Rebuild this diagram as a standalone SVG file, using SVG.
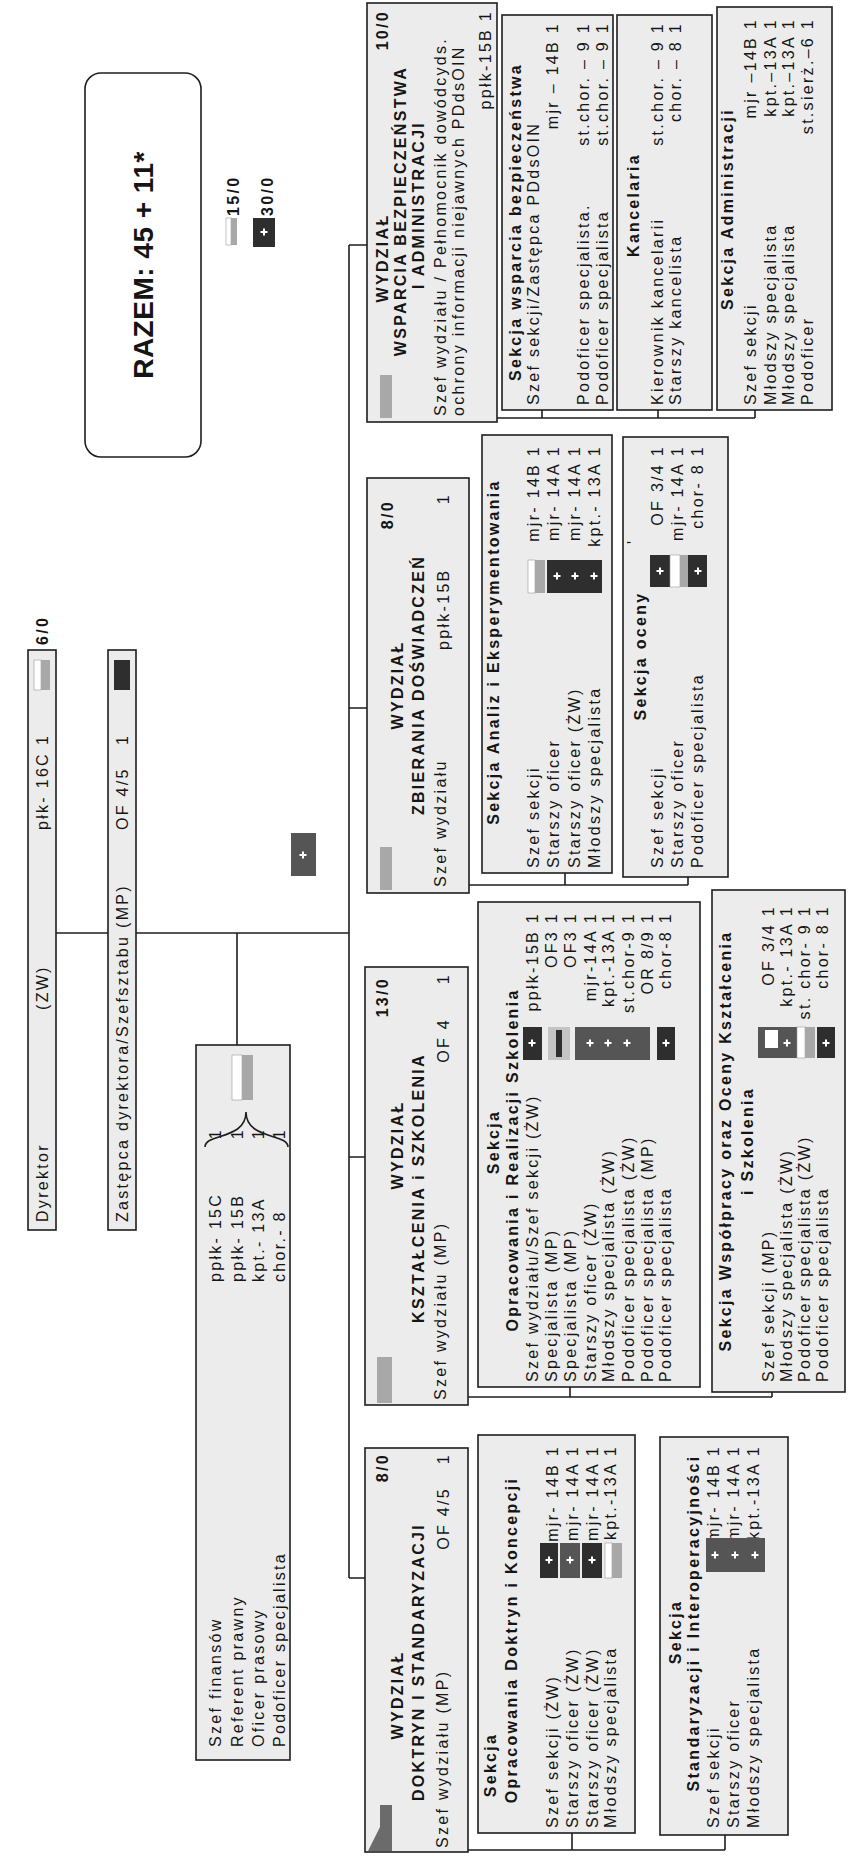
<svg xmlns="http://www.w3.org/2000/svg" width="850" height="1860" viewBox="0 0 850 1860">
<style>
.bx{fill:#ececec;stroke:#1e1e1e;stroke-width:1.6}
.ln{fill:none;stroke:#1e1e1e;stroke-width:1.6}
.t{font-family:"Liberation Sans",Arial,sans-serif;font-size:16px;letter-spacing:2.3px;fill:#151515}
.b{font-weight:bold}
.e{text-anchor:end}
.m{text-anchor:middle}
.dk{fill:#2e2e2e}
.md{fill:#555}
.gr{fill:#a8a8a8}
.wh{fill:#fff;stroke:#999;stroke-width:0.6}
</style>
<defs>
<g id="pl"><path d="M-3.5,0H3.5M0,-3.5V3.5" stroke="#fff" stroke-width="2"/></g>
</defs>
<rect width="850" height="1860" fill="#fff"/>

<g id="connectors">
<path class="ln" d="M349,245V1578M349,245H367M349,708H367M349,1157H365M349,1578H365"/>
<path class="ln" d="M56,933H108M136,933H349M237,933V1045"/>
<path class="ln" d="M497,418H755M542,410V418M658,410V418M755,410V418"/>
<path class="ln" d="M469,885H688M565,873V885M688,877V885"/>
<path class="ln" d="M468,1397H772M570,1387V1397M772,1392V1397"/>
<path class="ln" d="M468,1850H725M572,1833V1850M725,1835V1850"/>
</g>

<g id="razem">
<rect x="85" y="73" width="116" height="384" rx="16" fill="#fff" stroke="#1e1e1e" stroke-width="1.6"/>
<text class="t b m" style="font-size:28px;letter-spacing:0.5px" transform="translate(153,265) rotate(-90)">RAZEM: 45 + 11*</text>
</g>

<g id="legend">
<rect class="wh" x="226" y="218" width="5" height="27"/><rect class="gr" x="231" y="218" width="6" height="27"/>
<text class="t b" transform="translate(239,216) rotate(-90)">15/0</text>
<rect class="dk" x="253" y="218" width="22" height="29"/><use href="#pl" x="264" y="232"/>
<text class="t b" transform="translate(273,216) rotate(-90)">30/0</text>
</g>

<g id="icon-free">
<rect class="md" x="291" y="833" width="25" height="43"/><use href="#pl" x="303" y="855"/>
</g>

<g id="dyrektor">
<rect class="bx" x="28" y="650" width="28" height="580"/>
<text class="t" transform="translate(48,1222) rotate(-90)">Dyrektor</text>
<text class="t" transform="translate(48,1010) rotate(-90)">(ZW)</text>
<text class="t" transform="translate(48,830) rotate(-90)">płk- 16C</text>
<text class="t" transform="translate(48,745) rotate(-90)">1</text>
<rect class="wh" x="34" y="660" width="7" height="30"/><rect class="gr" x="41" y="660" width="9" height="30"/>
<text class="t b" transform="translate(48,645) rotate(-90)">6/0</text>
</g>

<g id="zastepca">
<rect class="bx" x="108" y="650" width="28" height="580"/>
<text class="t" transform="translate(128,1222) rotate(-90)">Zastępca dyrektora/Szefsztabu  (MP)</text>
<text class="t" transform="translate(128,830) rotate(-90)">OF 4/5</text>
<text class="t" transform="translate(128,745) rotate(-90)">1</text>
<rect class="dk" x="114" y="660" width="16" height="30"/>
</g>

<g id="sztab">
<rect class="bx" x="196" y="1045" width="94" height="715"/>
<text class="t" transform="translate(221,1747) rotate(-90)">Szef finansów</text>
<text class="t" transform="translate(243,1747) rotate(-90)">Referent prawny</text>
<text class="t" transform="translate(264,1747) rotate(-90)">Oficer prasowy</text>
<text class="t" transform="translate(285,1747) rotate(-90)">Podoficer specjalista</text>
<text class="t" transform="translate(221,1282) rotate(-90)">ppłk-  15C</text>
<text class="t" transform="translate(243,1282) rotate(-90)">ppłk-  15B</text>
<text class="t" transform="translate(264,1282) rotate(-90)">kpt.-  13A</text>
<text class="t" transform="translate(285,1282) rotate(-90)">chor.-  8</text>
<text class="t e" transform="translate(221,1128) rotate(-90)">1</text>
<text class="t e" transform="translate(243,1128) rotate(-90)">1</text>
<text class="t e" transform="translate(264,1128) rotate(-90)">1</text>
<text class="t e" transform="translate(285,1128) rotate(-90)">1</text>
<path class="ln" d="M205,1147C205,1133 246,1140 246,1112C246,1140 288,1133 288,1147"/>
<rect class="wh" x="232" y="1055" width="10" height="45"/><rect class="gr" x="242" y="1055" width="11" height="45"/>
</g>

<g id="wydz-wsparcia">
<rect class="bx" x="367" y="3" width="130" height="419"/>
<rect class="gr" x="380" y="375" width="12" height="43"/>
<text class="t b e" transform="translate(388,10) rotate(-90)">10/0</text>
<text class="t b m" transform="translate(388,258) rotate(-90)">WYDZIAŁ</text>
<text class="t b m" transform="translate(406,211) rotate(-90)">WSPARCIA BEZPIECZEŃSTWA</text>
<text class="t b m" transform="translate(424,205) rotate(-90)">I ADMINISTRACJI</text>
<text class="t" transform="translate(446,416) rotate(-90)">Szef wydziału / Pełnomocnik dowódcyds.</text>
<text class="t" transform="translate(464,416) rotate(-90)">ochrony informacji niejawnych PDdsOIN</text>
<text class="t e" transform="translate(491,10) rotate(-90)">ppłk-15B 1</text>
</g>

<g id="sek-wsparcia">
<rect class="bx" x="502" y="15" width="111" height="395"/>
<text class="t b m" transform="translate(521,222) rotate(-90)">Sekcja wsparcia bezpieczeństwa</text>
<text class="t" transform="translate(539,405) rotate(-90)">Szef sekcji/Zastępca PDdsOIN</text>
<text class="t e" transform="translate(558,22) rotate(-90)">mjr – 14B 1</text>
<text class="t" transform="translate(589,405) rotate(-90)">Podoficer specjalista.</text>
<text class="t e" transform="translate(589,22) rotate(-90)">st.chor. – 9 1</text>
<text class="t" transform="translate(608,405) rotate(-90)">Podoficer specjalista</text>
<text class="t e" transform="translate(608,22) rotate(-90)">st.chor. – 9 1</text>
</g>

<g id="kancelaria">
<rect class="bx" x="617" y="15" width="95" height="395"/>
<text class="t b m" transform="translate(639,205) rotate(-90)">Kancelaria</text>
<text class="t" transform="translate(663,405) rotate(-90)">Kierownik kancelarii</text>
<text class="t e" transform="translate(663,22) rotate(-90)">st.chor. – 9 1</text>
<text class="t" transform="translate(681,405) rotate(-90)">Starszy kancelista</text>
<text class="t e" transform="translate(681,22) rotate(-90)">chor. – 8 1</text>
</g>

<g id="sek-administracji">
<rect class="bx" x="717" y="7" width="115" height="403"/>
<text class="t b m" transform="translate(733,209) rotate(-90)">Sekcja Administracji</text>
<text class="t" transform="translate(756,405) rotate(-90)">Szef sekcji</text>
<text class="t e" transform="translate(756,18) rotate(-90)">mjr –14B 1</text>
<text class="t" transform="translate(776,405) rotate(-90)">Młodszy specjalista</text>
<text class="t e" transform="translate(776,18) rotate(-90)">kpt.–13A 1</text>
<text class="t" transform="translate(794,405) rotate(-90)">Młodszy specjalista</text>
<text class="t e" transform="translate(794,18) rotate(-90)">kpt.–13A 1</text>
<text class="t" transform="translate(813,405) rotate(-90)">Podoficer</text>
<text class="t e" transform="translate(813,18) rotate(-90)">st.sierż.–6 1</text>
</g>

<g id="wydz-zbierania">
<rect class="bx" x="367" y="478" width="102" height="415"/>
<rect class="gr" x="380" y="847" width="12" height="43"/>
<text class="t b e" transform="translate(393,500) rotate(-90)">8/0</text>
<text class="t e" transform="translate(449,493) rotate(-90)">1</text>
<text class="t b m" transform="translate(403,685) rotate(-90)">WYDZIAŁ</text>
<text class="t b m" transform="translate(424,685) rotate(-90)">ZBIERANIA DOŚWIADCZEŃ</text>
<text class="t" transform="translate(446,887) rotate(-90)">Szef wydziału</text>
<text class="t" transform="translate(449,650) rotate(-90)">ppłk-15B</text>
</g>

<g id="sek-analiz">
<rect class="bx" x="482" y="435" width="130" height="438"/>
<text class="t b m" transform="translate(499,652) rotate(-90)">Sekcja Analiz i Eksperymentowania</text>
<text class="t" transform="translate(539,868) rotate(-90)">Szef sekcji</text>
<text class="t" transform="translate(559,868) rotate(-90)">Starszy oficer</text>
<text class="t" transform="translate(580,868) rotate(-90)">Starszy oficer  (ŻW)</text>
<text class="t" transform="translate(600,868) rotate(-90)">Młodszy specjalista</text>
<text class="t e" transform="translate(539,445) rotate(-90)">mjr- 14B 1</text>
<text class="t e" transform="translate(559,445) rotate(-90)">mjr- 14A 1</text>
<text class="t e" transform="translate(580,445) rotate(-90)">mjr- 14A 1</text>
<text class="t e" transform="translate(600,445) rotate(-90)">kpt.- 13A 1</text>
<rect class="wh" x="528" y="560" width="7" height="33"/><rect class="gr" x="535" y="560" width="10" height="33"/>
<rect class="dk" x="547" y="560" width="55" height="33"/>
<use href="#pl" x="557" y="576"/><use href="#pl" x="575" y="576"/><use href="#pl" x="594" y="576"/>
</g>

<g id="sek-oceny">
<rect class="bx" x="623" y="437" width="105" height="440"/>
<text class="t b m" transform="translate(646,656) rotate(-90)">Sekcja oceny</text>
<text class="t" transform="translate(639,544) rotate(-90)">'</text>
<text class="t" transform="translate(663,868) rotate(-90)">Szef sekcji</text>
<text class="t" transform="translate(683,868) rotate(-90)">Starszy oficer</text>
<text class="t" transform="translate(703,868) rotate(-90)">Podoficer specjalista</text>
<text class="t e" transform="translate(663,445) rotate(-90)">OF 3/4 1</text>
<text class="t e" transform="translate(683,445) rotate(-90)">mjr- 14A 1</text>
<text class="t e" transform="translate(703,445) rotate(-90)">chor- 8 1</text>
<rect class="dk" x="650" y="555" width="20" height="32"/><use href="#pl" x="660" y="571"/>
<rect class="wh" x="670" y="555" width="10" height="32"/><rect class="gr" x="680" y="555" width="8" height="32"/>
<rect class="dk" x="688" y="555" width="19" height="32"/><use href="#pl" x="698" y="571"/>
</g>

<g id="wydz-ksztalcenia">
<rect class="bx" x="365" y="967" width="103" height="438"/>
<rect class="gr" x="377" y="1357" width="15" height="46"/>
<text class="t b e" transform="translate(388,977) rotate(-90)">13/0</text>
<text class="t e" transform="translate(449,973) rotate(-90)">1</text>
<text class="t e" transform="translate(449,1018) rotate(-90)">OF 4</text>
<text class="t b m" transform="translate(403,1145) rotate(-90)">WYDZIAŁ</text>
<text class="t b m" transform="translate(424,1188) rotate(-90)">KSZTAŁCENIA i SZKOLENIA</text>
<text class="t" transform="translate(446,1400) rotate(-90)">Szef wydziału (MP)</text>
</g>

<g id="sek-szkolenia">
<rect class="bx" x="478" y="902" width="222" height="485"/>
<text class="t b m" transform="translate(499,1142) rotate(-90)">Sekcja</text>
<text class="t b m" transform="translate(518,1160) rotate(-90)">Opracowania i Realizacji Szkolenia</text>
<text class="t" transform="translate(538,1382) rotate(-90)">Szef wydziału/Szef sekcji (ŻW)</text>
<text class="t" transform="translate(557,1382) rotate(-90)">Specjalista (MP)</text>
<text class="t" transform="translate(576,1382) rotate(-90)">Specjalista (MP)</text>
<text class="t" transform="translate(596,1382) rotate(-90)">Starszy oficer (ŻW)</text>
<text class="t" transform="translate(614,1382) rotate(-90)">Młodszy specjalista (ŻW)</text>
<text class="t" transform="translate(634,1382) rotate(-90)">Podoficer specjalista (ŻW)</text>
<text class="t" transform="translate(653,1382) rotate(-90)">Podoficer specjalista (MP)</text>
<text class="t" transform="translate(671,1382) rotate(-90)">Podoficer specjalista</text>
<text class="t e" transform="translate(538,912) rotate(-90)">ppłk-15B 1</text>
<text class="t e" transform="translate(557,912) rotate(-90)">OF3 1</text>
<text class="t e" transform="translate(576,912) rotate(-90)">OF3 1</text>
<text class="t e" transform="translate(596,912) rotate(-90)">mjr-14A 1</text>
<text class="t e" transform="translate(614,912) rotate(-90)">kpt.-13A 1</text>
<text class="t e" transform="translate(634,912) rotate(-90)">st.chor-9 1</text>
<text class="t e" transform="translate(653,912) rotate(-90)">OR 8/9 1</text>
<text class="t e" transform="translate(671,912) rotate(-90)">chor-8 1</text>
<rect class="dk" x="523" y="1027" width="19" height="33"/><use href="#pl" x="532" y="1043"/>
<rect fill="#c4c4c4" x="548" y="1027" width="22" height="33"/><rect class="dk" x="556" y="1030" width="6" height="27"/>
<rect class="md" x="575" y="1027" width="75" height="33"/>
<use href="#pl" x="590" y="1043"/><use href="#pl" x="608" y="1043"/><use href="#pl" x="627" y="1043"/>
<rect class="dk" x="657" y="1027" width="18" height="33"/><use href="#pl" x="666" y="1043"/>
</g>

<g id="sek-wspolpracy">
<rect class="bx" x="712" y="890" width="133" height="502"/>
<text class="t b m" transform="translate(731,1141) rotate(-90)">Sekcja Współpracy oraz Oceny Kształcenia</text>
<text class="t b m" transform="translate(753,1141) rotate(-90)">i Szkolenia</text>
<text class="t" transform="translate(774,1382) rotate(-90)">Szef sekcji (MP)</text>
<text class="t" transform="translate(792,1382) rotate(-90)">Młodszy specjalista (ŻW)</text>
<text class="t" transform="translate(810,1382) rotate(-90)">Podoficer specjalista (ŻW)</text>
<text class="t" transform="translate(828,1382) rotate(-90)">Podoficer specjalista</text>
<text class="t e" transform="translate(774,905) rotate(-90)">OF 3/4 1</text>
<text class="t e" transform="translate(792,905) rotate(-90)">kpt.- 13A 1</text>
<text class="t e" transform="translate(810,905) rotate(-90)">st. chor- 9 1</text>
<text class="t e" transform="translate(828,905) rotate(-90)">chor- 8 1</text>
<rect class="md" x="758" y="1027" width="39" height="31"/><rect fill="#fff" x="765" y="1030" width="13" height="18"/>
<use href="#pl" x="787" y="1043"/>
<rect class="wh" x="797" y="1027" width="8" height="31"/><rect class="gr" x="805" y="1027" width="10" height="31"/>
<rect class="dk" x="817" y="1027" width="18" height="31"/><use href="#pl" x="826" y="1043"/>
</g>

<g id="wydz-doktryn">
<rect class="bx" x="365" y="1448" width="103" height="404"/>
<polygon fill="#6b6b6b" points="380,1805 392,1805 392,1851 368,1851 380,1827"/>
<text class="t b e" transform="translate(388,1453) rotate(-90)">8/0</text>
<text class="t e" transform="translate(449,1453) rotate(-90)">1</text>
<text class="t e" transform="translate(449,1487) rotate(-90)">OF 4/5</text>
<text class="t b m" transform="translate(403,1695) rotate(-90)">WYDZIAŁ</text>
<text class="t b m" transform="translate(424,1662) rotate(-90)">DOKTRYN  I STANDARYZACJI</text>
<text class="t" transform="translate(448,1848) rotate(-90)">Szef wydziału (MP)</text>
</g>

<g id="sek-doktryn">
<rect class="bx" x="478" y="1435" width="157" height="398"/>
<text class="t b m" transform="translate(496,1765) rotate(-90)">Sekcja</text>
<text class="t b m" transform="translate(517,1640) rotate(-90)">Opracowania Doktryn i Koncepcji</text>
<text class="t" transform="translate(558,1828) rotate(-90)">Szef sekcji (ŻW)</text>
<text class="t" transform="translate(578,1828) rotate(-90)">Starszy oficer (ŻW)</text>
<text class="t" transform="translate(598,1828) rotate(-90)">Starszy oficer (ŻW)</text>
<text class="t" transform="translate(616,1828) rotate(-90)">Młodszy specjalista</text>
<text class="t e" transform="translate(558,1445) rotate(-90)">mjr- 14B 1</text>
<text class="t e" transform="translate(578,1445) rotate(-90)">mjr- 14A 1</text>
<text class="t e" transform="translate(598,1445) rotate(-90)">mjr- 14A 1</text>
<text class="t e" transform="translate(616,1445) rotate(-90)">kpt.-13A 1</text>
<rect class="dk" x="540" y="1543" width="18" height="35"/><use href="#pl" x="549" y="1560"/>
<rect class="md" x="560" y="1543" width="20" height="35"/><use href="#pl" x="570" y="1560"/>
<rect class="dk" x="582" y="1543" width="20" height="35"/><use href="#pl" x="592" y="1560"/>
<rect class="wh" x="605" y="1543" width="7" height="35"/><rect class="gr" x="612" y="1543" width="10" height="35"/>
</g>

<g id="sek-standaryzacji">
<rect class="bx" x="660" y="1437" width="128" height="398"/>
<text class="t b m" transform="translate(681,1632) rotate(-90)">Sekcja</text>
<text class="t b m" transform="translate(699,1623) rotate(-90)">Standaryzacji i Interoperacyjności</text>
<text class="t" transform="translate(719,1828) rotate(-90)">Szef sekcji</text>
<text class="t" transform="translate(739,1828) rotate(-90)">Starszy oficer</text>
<text class="t" transform="translate(759,1828) rotate(-90)">Młodszy specjalista</text>
<text class="t e" transform="translate(719,1445) rotate(-90)">mjr- 14B 1</text>
<text class="t e" transform="translate(739,1445) rotate(-90)">mjr- 14A 1</text>
<text class="t e" transform="translate(759,1445) rotate(-90)">kpt.-13A 1</text>
<rect class="md" x="706" y="1538" width="59" height="34"/>
<use href="#pl" x="715" y="1555"/><use href="#pl" x="735" y="1555"/><use href="#pl" x="755" y="1555"/>
</g>
</svg>
